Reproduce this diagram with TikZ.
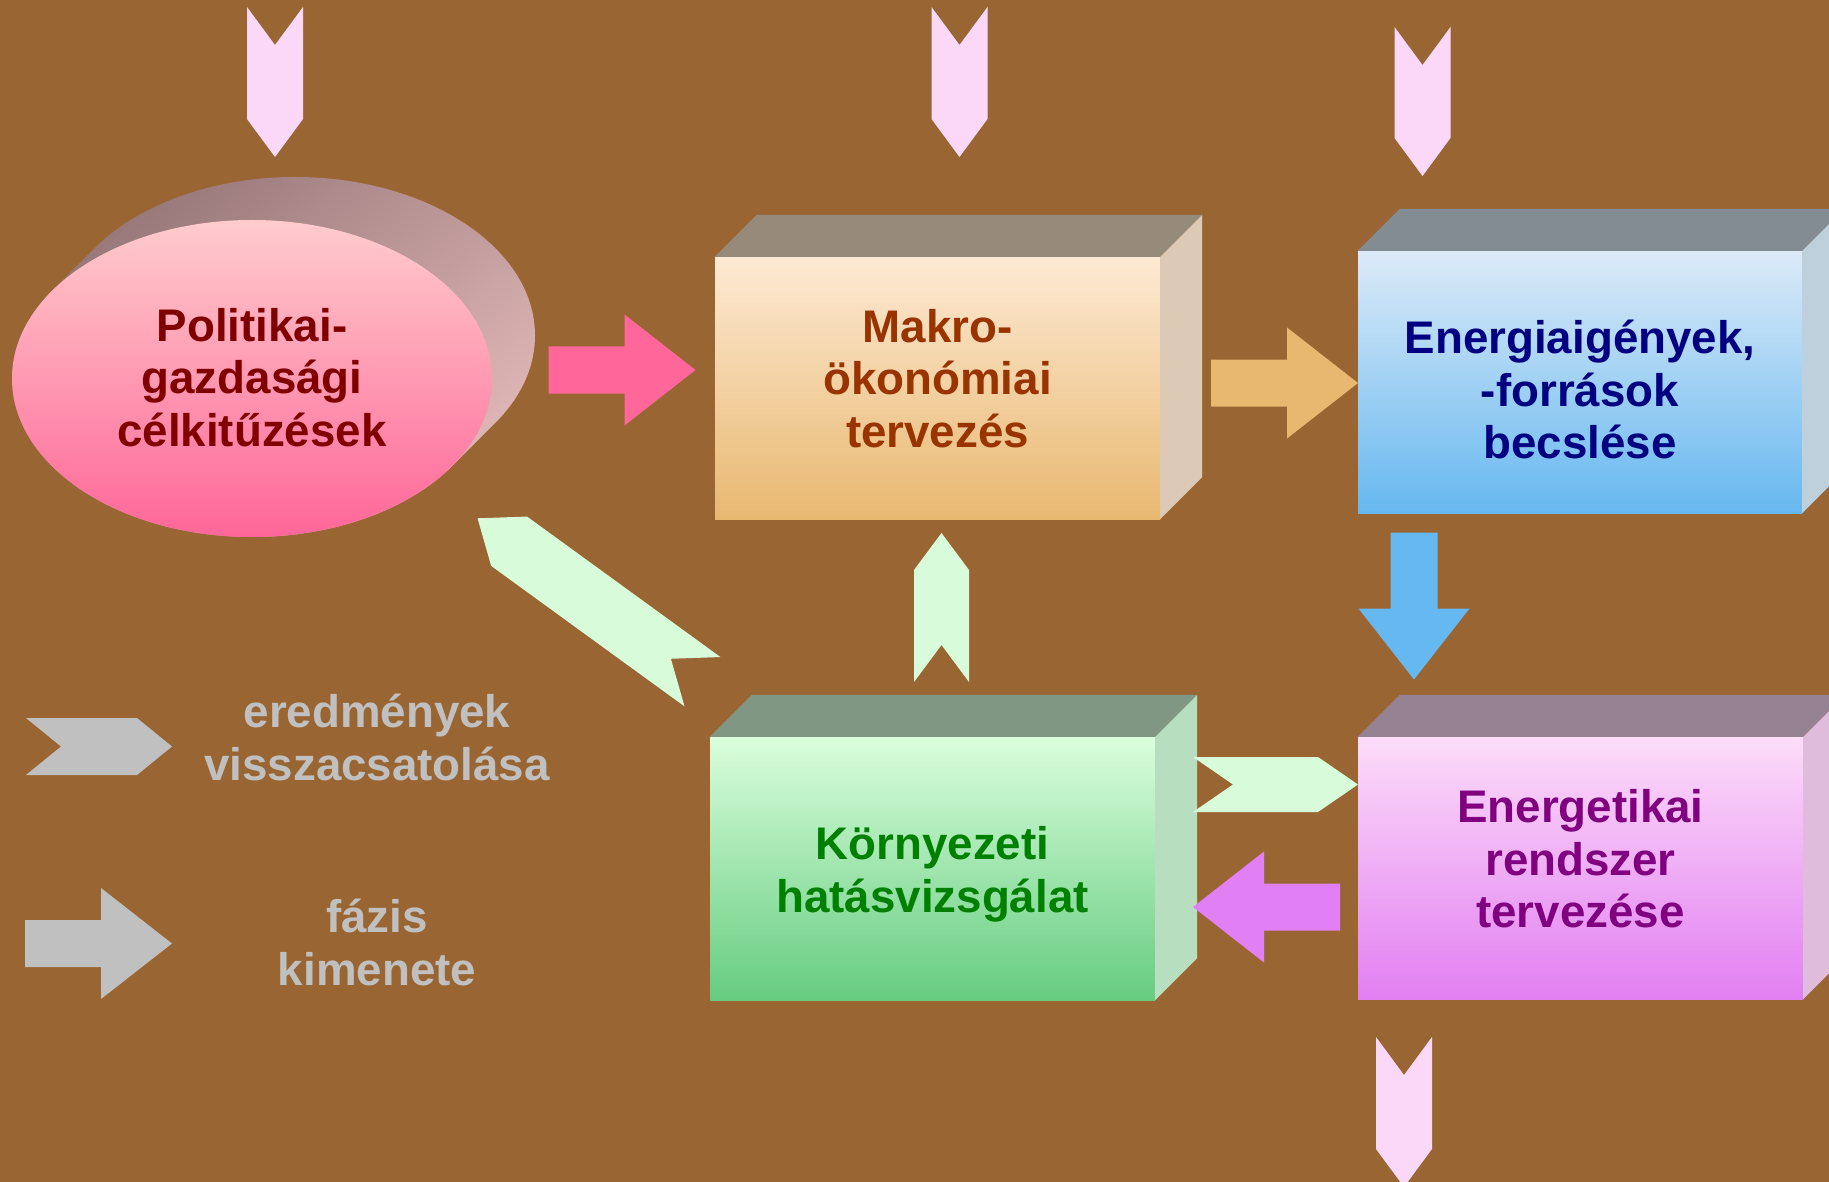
\documentclass[tikz,border=0pt]{standalone}
\usepackage{fontspec}
\setmainfont{Liberation Sans}
\usetikzlibrary{shapes.geometric}
\definecolor{bg}{HTML}{996633}
\definecolor{pinkA}{HTML}{FF6699}
\definecolor{orangeA}{HTML}{E8B870}
\definecolor{blueA}{HTML}{66B8F0}
\definecolor{purpleA}{HTML}{E180F5}
\definecolor{greenC}{HTML}{D8FCDA}
\definecolor{pinkC}{HTML}{FCD8F8}
\definecolor{greyL}{HTML}{C0C0C0}
\definecolor{discDark}{RGB}{150,118,120}
\definecolor{discLight}{RGB}{226,184,184}
\definecolor{ellTop}{RGB}{255,204,204}
\definecolor{ellText}{RGB}{128,0,0}
\definecolor{makTop}{RGB}{253,233,211}
\definecolor{makText}{RGB}{153,51,0}
\definecolor{makLid}{RGB}{150,138,122}
\definecolor{makSide}{RGB}{220,202,182}
\definecolor{eneTop}{RGB}{220,234,248}
\definecolor{eneText}{RGB}{0,0,128}
\definecolor{eneLid}{RGB}{131,139,147}
\definecolor{eneSide}{RGB}{191,208,221}
\definecolor{korTop}{RGB}{218,254,220}
\definecolor{korBot}{RGB}{102,204,128}
\definecolor{korText}{RGB}{0,128,0}
\definecolor{korLid}{RGB}{127,150,130}
\definecolor{korSide}{RGB}{184,222,192}
\definecolor{rszTop}{RGB}{252,220,248}
\definecolor{rszBot}{RGB}{226,127,242}
\definecolor{rszText}{RGB}{128,0,128}
\definecolor{rszLid}{RGB}{150,130,146}
\definecolor{rszSide}{RGB}{224,188,220}
\newcommand\bigfont{\fontsize{45.7}{52.5}\selectfont\bfseries}
\tikzset{
  front/.style={rectangle, inner sep=0pt, minimum width=445, minimum height=262, align=center, font=\bigfont},
  legtext/.style={inner sep=0pt, align=center, font=\bigfont, text=greyL},
}
\newcommand\chevshape[7]{%
  \begin{scope}[shift={(#1,#2)},rotate=#6]
    \fill[#7] ({-(#3)/2},{-(#4)/2}) -- ({(#3)/2-(#5)},{-(#4)/2}) -- ({(#3)/2},0)
      -- ({(#3)/2-(#5)},{(#4)/2}) -- ({-(#3)/2},{(#4)/2}) -- ({-(#3)/2+(#5)},0) -- cycle;
  \end{scope}}
\newcommand\blockarr[4]{%
  \begin{scope}[shift={(#1,#2)},rotate=#3]
    \fill[#4] (-73.5,-23.5) -- (2.5,-23.5) -- (2.5,-55.5) -- (73.5,0)
      -- (2.5,55.5) -- (2.5,23.5) -- (-73.5,23.5) -- cycle;
  \end{scope}}
\newcommand\boxfaces[3]{%
  \fill[#2] (#1.north west) -- ++(42,-42) -- ([shift={(42,-42)}]#1.north east) -- (#1.north east) -- cycle;
  \fill[#3] (#1.north east) -- ++(42,-42) -- ([shift={(42,-42)}]#1.south east) -- (#1.south east) -- cycle;}
\begin{document}
\begin{tikzpicture}[x=1pt,y=-1pt]
  \fill[bg] (0,0) rectangle (1829,1182);
  \useasboundingbox (0,0) rectangle (1829,1182);

  % ellipse (extruded disc)
  \shade[top color=discDark, bottom color=discLight, shading angle=40]
    \foreach \t in {0,...,20} { ({252+43*\t/20},{378.5-43*\t/20}) ellipse [x radius=240, y radius=158.5] };
  \node[ellipse, inner sep=0pt, minimum width=480, minimum height=317, align=center, font=\bigfont,
        top color=ellTop, bottom color=pinkA, text=ellText]
    (pol) at (252,378.5) {\rule{0pt}{45.75pt}Politikai-\\\strut gazdasági\\\strut célkitűzések};

  % boxes
  \node[front, top color=makTop, bottom color=orangeA, text=makText]
    (mak) at (937.5,388) {\strut Makro-\\\strut ökonómiai\\\strut tervezés\rule[-23.75pt]{0pt}{0pt}};
  \boxfaces{mak}{makLid}{makSide}

  \node[front, minimum width=444, top color=eneTop, bottom color=blueA, text=eneText]
    (ene) at (1580,382) {\rule{0pt}{63.75pt}Energiaigények,\\\strut -források\\\strut becslése};
  \boxfaces{ene}{eneLid}{eneSide}

  \node[front, minimum height=263, top color=korTop, bottom color=korBot, text=korText]
    (kor) at (932.5,868.5) {\rule{0pt}{50.75pt}Környezeti\\\strut hatásvizsgálat};
  \boxfaces{kor}{korLid}{korSide}

  \node[front, top color=rszTop, bottom color=rszBot, text=rszText]
    (rsz) at (1580.5,868) {\strut Energetikai\\\strut rendszer\\\strut tervezése\rule[-22.75pt]{0pt}{0pt}};
  \boxfaces{rsz}{rszLid}{rszSide}

  % input / output chevrons
  \chevshape{275}{82}{150}{56}{38}{-90}{pinkC}
  \chevshape{959.5}{82}{150}{56}{38}{-90}{pinkC}
  \chevshape{1422.5}{101.5}{149}{56}{38}{-90}{pinkC}
  \chevshape{1404}{1112}{150}{56}{38}{-90}{pinkC}

  % phase outputs
  \blockarr{622}{370}{0}{pinkA}
  \blockarr{1284.5}{383}{0}{orangeA}
  \blockarr{1414}{606}{-90}{blueA}
  \blockarr{1266.5}{907}{180}{purpleA}

  % feedback chevrons
  \chevshape{941.5}{607.5}{149}{55}{37}{90}{greenC}
  \chevshape{1275.5}{784.5}{165}{55}{40}{0}{greenC}
  \chevshape{590}{600}{278}{61}{39}{144}{greenC}

  % legend
  \chevshape{99}{746.5}{146}{57}{35}{0}{greyL}
  \blockarr{98.5}{943.5}{0}{greyL}
  \node[legtext] (leg1) at (377,743.5) {\strut eredmények\\\strut visszacsatolása};
  \node[legtext] (leg2) at (377,948.5) {\strut fázis\\\strut kimenete};
\end{tikzpicture}
\end{document}
